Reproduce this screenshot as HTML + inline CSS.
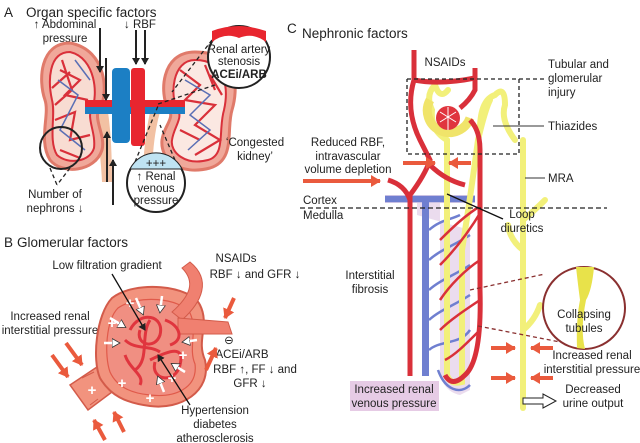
<!DOCTYPE html>
<html><head><meta charset="utf-8"><style>
html,body{margin:0;padding:0;background:#fff}
svg{display:block}
text{font-family:"Liberation Sans","DejaVu Sans",sans-serif;fill:#222;font-size:11.5px}
.c{text-anchor:middle}
.h{font-size:13.5px}
.w{fill:#fff;font-size:15px;font-weight:bold;text-anchor:middle}
</style></head><body>
<svg width="640" height="443" viewBox="0 0 640 443" xmlns="http://www.w3.org/2000/svg">
<defs>
<marker id="ah" markerUnits="userSpaceOnUse" markerWidth="8" markerHeight="8" refX="6" refY="4" orient="auto"><path d="M0,0 L7,4 L0,8 z" fill="#222"/></marker>
<marker id="oa" markerUnits="userSpaceOnUse" markerWidth="12" markerHeight="12" refX="9" refY="6" orient="auto"><path d="M0,0 L10,6 L0,12 z" fill="#ea5a3d"/></marker>
<marker id="wa" markerUnits="userSpaceOnUse" markerWidth="10" markerHeight="10" refX="7" refY="5" orient="auto"><path d="M0,0.5 L8,5 L0,9.5 z" fill="#fff" stroke="#333" stroke-width="0.8"/></marker>
</defs>

<!-- PANEL A -->
<text x="4" y="17" class="h">A</text>
<text x="26" y="17" class="h">Organ specific factors</text>
<text x="65" y="28" class="c">↑ Abdominal</text>
<text x="65" y="42" class="c">pressure</text>
<text x="140" y="28" class="c">↓ RBF</text>

<path d="M92,112 Q100,140 102,182 L112,182 Q112,140 108,112 z" fill="#f2c1a3"/>
<path d="M160,112 Q152,140 152,182 L142,182 Q144,140 150,112 z" fill="#f2c1a3"/>
<!-- left kidney -->
<path d="M70,43 C40,43 38,80 45,100 C50,115 38,140 50,160 C62,175 95,172 102,150 C106,135 92,118 100,108 C108,95 108,50 70,43 z" fill="#f0a89a" stroke="#e07a6a" stroke-width="3"/>
<path d="M70,52 C48,52 48,82 52,100 C56,115 48,140 57,155 C68,165 90,162 94,148 C96,132 86,118 92,108 C98,96 96,58 70,52 z" fill="#f8dcd2" stroke="#d9303a" stroke-width="2"/>
<path d="M60,70 L80,80 L65,95 L88,100 M55,120 L75,112 L70,140 L90,135 M62,60 L72,90 L55,105 M52,88 L70,72 M60,150 L80,158" stroke="#d9303a" stroke-width="2.2" fill="none"/>
<path d="M58,80 L78,95 L60,130 L85,150 M75,60 L90,80" stroke="#5a6fb5" stroke-width="1.5" fill="none"/>
<!-- right kidney -->
<path d="M195,52 C240,52 238,90 232,110 C226,130 236,160 210,168 C180,176 160,160 162,140 C164,125 176,118 168,108 C160,95 160,52 195,52 z" fill="#f0a89a" stroke="#e07a6a" stroke-width="3"/>
<path d="M195,60 C228,60 228,92 224,110 C218,130 226,155 208,160 C185,166 170,152 172,140 C174,126 184,118 177,108 C170,96 172,60 195,60 z" fill="#fbe8e2" stroke="#d9303a" stroke-width="2"/>
<path d="M180,70 L200,85 L185,100 L215,105 L195,125 L220,140 L195,155 M205,65 L215,90 M180,130 L200,140 M210,75 L222,95" stroke="#d9303a" stroke-width="2.2" fill="none"/>
<path d="M185,80 L210,95 L190,115 L210,130 L188,150" stroke="#5a6fb5" stroke-width="1.5" fill="none"/>
<rect x="85" y="100" width="100" height="7" fill="#e8262f"/>
<rect x="85" y="107" width="100" height="7" fill="#1c7fc4"/>
<rect x="112" y="68" width="18" height="75" rx="4" fill="#1c7fc4"/>
<rect x="131" y="68" width="14" height="78" rx="3" fill="#e8262f"/>
<g stroke="#222" stroke-width="2" marker-end="url(#ah)">
<line x1="100" y1="28" x2="100" y2="72"/>
<line x1="106" y1="58" x2="106" y2="100"/>
<line x1="136" y1="30" x2="136" y2="64"/>
<line x1="145" y1="30" x2="145" y2="64"/>
<line x1="107" y1="182" x2="107" y2="132"/>
<line x1="113" y1="205" x2="113" y2="160"/>
</g>
<g stroke="#222" stroke-width="1.3" stroke-dasharray="4,3" fill="none">
<line x1="212" y1="40" x2="172" y2="92"/>
<line x1="215" y1="85" x2="158" y2="104"/>
<line x1="135" y1="162" x2="158" y2="106"/>
<line x1="175" y1="160" x2="160" y2="125"/>
<line x1="50" y1="168" x2="57" y2="185"/>
<line x1="70" y1="168" x2="57" y2="185"/>
</g>
<circle cx="61" cy="148" r="21" fill="none" stroke="#222" stroke-width="2"/>
<circle cx="239" cy="57" r="31" fill="#fff" stroke="#222" stroke-width="2"/>
<path d="M212,42 Q225,32 239,38 Q253,32 266,42 L266,31 Q250,26 239,26 Q225,26 212,31 z" fill="#e8262f"/>
<text x="239" y="53" class="c">Renal artery</text>
<text x="239" y="65" class="c">stenosis</text>
<text x="239" y="78" class="c" font-weight="bold">ACEi/ARB</text>
<circle cx="156" cy="183" r="29" fill="#fff" stroke="#222" stroke-width="2"/>
<path d="M130,169 A29,29 0 0 1 182,169 z" fill="#bfe3f2" stroke="#222" stroke-width="1"/>
<text x="156" y="167" class="c" font-size="12">+++</text>
<text x="156" y="180" class="c">↑ Renal</text>
<text x="156" y="192" class="c">venous</text>
<text x="156" y="204" class="c">pressure</text>
<text x="255" y="146" class="c">‘Congested</text>
<text x="255" y="160" class="c">kidney’</text>
<text x="55" y="198" class="c">Number of</text>
<text x="55" y="212" class="c">nephrons ↓</text>

<!-- PANEL B -->
<text x="4" y="247" class="h">B</text>
<text x="17" y="247" class="h">Glomerular factors</text>
<text x="107" y="269" class="c">Low filtration gradient</text>
<text x="236" y="262" class="c">NSAIDs</text>
<text x="255" y="278" class="c">RBF ↓ and GFR ↓</text>
<text x="50" y="320" class="c">Increased renal</text>
<text x="50" y="334" class="c">interstitial pressure</text>
<text x="229" y="344" class="c" font-size="12">⊖</text>
<text x="242" y="358" class="c">ACEi/ARB</text>
<text x="255" y="373" class="c">RBF ↑, FF ↓ and</text>
<text x="250" y="387" class="c">GFR ↓</text>
<text x="215" y="414" class="c">Hypertension</text>
<text x="215" y="428" class="c">diabetes</text>
<text x="215" y="442" class="c">atherosclerosis</text>
<!-- tubule -->
<path d="M70,385 L100,365 L112,392 L88,410 z" fill="#f2937e" stroke="#d35b4a" stroke-width="1.5"/>
<path d="M82,378 L94,372 M90,405 L98,399" stroke="#d35b4a"/>
<!-- capsule -->
<path d="M112,298 C135,280 190,285 200,305 C210,325 196,340 205,360 C212,392 180,410 150,406 C125,403 110,395 100,378 C92,360 96,315 112,298 z" fill="#f2937e" stroke="#d35b4a" stroke-width="2"/>
<path d="M118,308 C138,294 180,298 190,313 C198,330 188,348 195,364 C198,388 175,398 150,395 C128,393 116,385 110,372 C104,355 106,320 118,308 z" fill="#f08f82" stroke="#e05a4a" stroke-width="1.2"/>
<!-- vessel -->
<path d="M190,262 C212,280 202,302 182,320 L172,312 C190,296 196,282 182,268 z" fill="#f08070" stroke="#d35b4a"/>
<path d="M178,318 L228,322 L232,334 L178,334 z" fill="#f08070" stroke="#d35b4a"/>
<g fill="none" stroke="#e0353e" stroke-width="3">
<path d="M130,330 C140,310 165,315 160,335 C155,350 135,345 140,330 M150,360 C170,350 185,345 180,365 C175,385 150,380 155,362 M125,355 C130,370 145,375 140,385 M165,320 C180,325 185,340 170,345 M125,340 C135,350 150,345 160,352 M150,320 C140,335 150,360 135,370"/>
</g>
<text x="130" y="308" class="w">+</text>
<text x="112" y="328" class="w">+</text>
<text x="183" y="360" class="w">+</text>
<text x="172" y="383" class="w">+</text>
<text x="122" y="388" class="w">+</text>
<text x="150" y="403" class="w">+</text>
<text x="92" y="395" class="w">+</text>
<g stroke="#ea5a3d" stroke-width="4" marker-end="url(#oa)">
<line x1="52" y1="355" x2="68" y2="377"/>
<line x1="66" y1="343" x2="82" y2="365"/>
<line x1="105" y1="440" x2="94" y2="420"/>
<line x1="124" y1="432" x2="114" y2="412"/>
<line x1="234" y1="298" x2="225" y2="318"/>
<line x1="206" y1="370" x2="216" y2="348"/>
</g>
<g stroke="#fff" stroke-width="2.5" marker-end="url(#wa)">
<line x1="136" y1="298" x2="143" y2="314"/>
<line x1="162" y1="296" x2="160" y2="312"/>
<line x1="110" y1="318" x2="125" y2="327"/>
<line x1="104" y1="343" x2="119" y2="343"/>
<line x1="197" y1="340" x2="183" y2="342"/>
<line x1="185" y1="372" x2="172" y2="364"/>
<line x1="164" y1="392" x2="158" y2="377"/>
</g>
<line x1="112" y1="274" x2="145" y2="330" stroke="#111" stroke-width="1.3" marker-end="url(#ah)"/>
<line x1="190" y1="405" x2="158" y2="355" stroke="#111" stroke-width="1.3" marker-end="url(#ah)"/>

<!-- PANEL C -->
<text x="287" y="33" class="h">C</text>
<text x="302" y="38" class="h">Nephronic factors</text>
<path d="M417,200 L440,200 L440,375 Q445,392 460,395 L470,390 L470,230 L417,215 z" fill="#e6d3ea" opacity="0.8"/>
<rect x="385" y="195" width="90" height="8" fill="#c9c0e3"/>
<rect x="385" y="196" width="90" height="6" fill="#6f7fd0"/>
<rect x="422" y="198" width="7" height="178" fill="#6f7fd0"/>
<path d="M429,230 C440,220 450,220 460,215 M429,260 C440,250 455,245 470,235 M429,290 C440,280 455,275 470,265 M429,320 C440,310 455,305 470,295 M429,350 C440,340 460,345 470,330 M438,370 C445,390 460,395 470,385" stroke="#6f7fd0" stroke-width="2.5" fill="none"/>
<g fill="none" stroke="#f2f07a" stroke-width="6" stroke-linecap="round">
<path d="M447,140 L447,375 Q450,385 462,382 L462,250 Q470,200 478,140 Q485,110 490,100"/>
<path d="M447,140 Q430,130 432,110 Q425,95 435,85 Q440,100 448,90"/>
<path d="M480,130 Q480,100 495,95 Q505,85 505,105 Q500,120 515,140"/>
<path d="M523,140 L523,408"/>
<path d="M523,220 Q535,210 545,200 M523,250 Q510,240 508,225 M523,330 Q535,320 540,305"/>
</g>
<path d="M430,100 A22,22 0 1 0 470,118" fill="none" stroke="#f0e46a" stroke-width="9"/>
<circle cx="448" cy="118" r="12" fill="#e0353e"/>
<path d="M440,112 L456,122 M440,122 L456,112 M448,107 L448,130" stroke="#fff" stroke-width="1"/>
<g fill="none" stroke="#d9303a" stroke-width="5">
<path d="M414,50 L414,80 Q405,110 420,140 L430,160 Q425,175 410,195 L410,376"/>
<path d="M475,68 L475,90 Q470,100 460,108"/>
<path d="M414,80 Q440,85 475,78"/>
<path d="M470,120 Q480,130 480,150 L480,290 Q482,360 465,375 Q452,388 445,375"/>
<path d="M430,165 Q445,180 465,185"/>
<path d="M388,180 Q405,185 410,200"/>
</g>
<path d="M482,205 C465,215 450,230 440,240 M482,210 C470,230 455,250 440,265 M480,260 C465,270 450,285 440,300 M480,300 C465,310 450,320 440,330 M480,330 C465,345 455,355 445,360" stroke="#d9303a" stroke-width="2.5" fill="none"/>
<g stroke="#ea5a3d" stroke-width="4" marker-end="url(#oa)">
<line x1="303" y1="181" x2="380" y2="181"/>
<line x1="403" y1="163" x2="435" y2="163"/>
<line x1="471" y1="163" x2="449" y2="163"/>
<line x1="491" y1="348" x2="515" y2="348"/>
<line x1="553" y1="348" x2="531" y2="348"/>
<line x1="491" y1="378" x2="515" y2="378"/>
<line x1="553" y1="378" x2="531" y2="378"/>
</g>
<path d="M523,398 L543,398 L543,394 L556,401 L543,408 L543,404 L523,404 z" fill="#fff" stroke="#222" stroke-width="1"/>
<path d="M407,79 L547,79 M519,79 L519,154 L407,154 L407,79" fill="none" stroke="#222" stroke-width="1.3" stroke-dasharray="4,3"/>
<line x1="300" y1="208" x2="607" y2="208" stroke="#222" stroke-width="1.3" stroke-dasharray="5,3"/>
<line x1="493" y1="126" x2="544" y2="126" stroke="#333"/>
<line x1="525" y1="178" x2="545" y2="178" stroke="#333"/>
<line x1="447" y1="194" x2="503" y2="219" stroke="#111" stroke-width="1.3"/>
<line x1="470" y1="290" x2="545" y2="274" stroke="#8a3030" stroke-width="1.3" stroke-dasharray="4,3"/>
<line x1="478" y1="326" x2="560" y2="342" stroke="#8a3030" stroke-width="1.3" stroke-dasharray="4,3"/>
<circle cx="584" cy="308" r="41" fill="#fff" stroke="#8a3030" stroke-width="2"/>
<path d="M576,267 L594,267 Q592,290 586,300 Q580,330 585,349 L577,348 Q576,320 580,300 Q578,285 576,267 z" fill="#e8e24a"/>
<text x="584" y="318" class="c">Collapsing</text>
<text x="584" y="332" class="c">tubules</text>
<rect x="350" y="381" width="89" height="30" fill="#e6cbe5"/>
<text x="394" y="393" class="c">Increased renal</text>
<text x="394" y="407" class="c">venous pressure</text>
<text x="445" y="66" class="c">NSAIDs</text>
<text x="548" y="68">Tubular and</text>
<text x="548" y="82">glomerular</text>
<text x="548" y="96">injury</text>
<text x="548" y="130">Thiazides</text>
<text x="348" y="146" class="c">Reduced RBF,</text>
<text x="348" y="160" class="c">intravascular</text>
<text x="348" y="173" class="c">volume depletion</text>
<text x="548" y="182">MRA</text>
<text x="303" y="204">Cortex</text>
<text x="303" y="219">Medulla</text>
<text x="522" y="218" class="c">Loop</text>
<text x="522" y="232" class="c">diuretics</text>
<text x="370" y="279" class="c">Interstitial</text>
<text x="370" y="293" class="c">fibrosis</text>
<text x="592" y="359" class="c">Increased renal</text>
<text x="592" y="373" class="c">interstitial pressure</text>
<text x="593" y="393" class="c">Decreased</text>
<text x="593" y="407" class="c">urine output</text>
</svg>
</body></html>
